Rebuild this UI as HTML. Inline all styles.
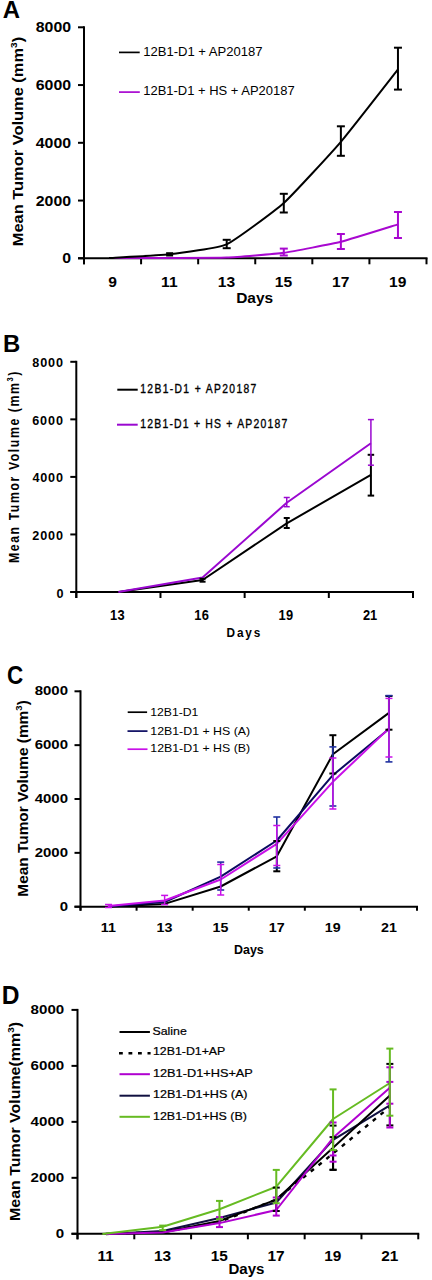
<!DOCTYPE html>
<html><head><meta charset="utf-8"><style>
html,body{margin:0;padding:0;background:#fff;width:432px;height:1280px;overflow:hidden;position:relative}
svg text{font-family:"Liberation Sans", sans-serif}
</style></head><body>
<svg width="432" height="1280" viewBox="0 0 432 1280" style="position:absolute;left:0;top:0">
<g font-family='"Liberation Sans", sans-serif'>
<text x="2.75" y="18.00" font-size="24.14" font-weight="bold" textLength="17.30" lengthAdjust="spacingAndGlyphs" fill="#000" >A</text>
<line x1="84" y1="26.3" x2="84" y2="264.3" stroke="#000" stroke-width="2" />
<line x1="78" y1="27.3" x2="84" y2="27.3" stroke="#000" stroke-width="2" />
<line x1="78" y1="85.05" x2="84" y2="85.05" stroke="#000" stroke-width="2" />
<line x1="78" y1="142.8" x2="84" y2="142.8" stroke="#000" stroke-width="2" />
<line x1="78" y1="200.55" x2="84" y2="200.55" stroke="#000" stroke-width="2" />
<line x1="78" y1="258.3" x2="84" y2="258.3" stroke="#000" stroke-width="2" />
<line x1="78" y1="258.3" x2="427.5" y2="258.3" stroke="#000" stroke-width="2" />
<line x1="84.0" y1="258.3" x2="84.0" y2="264.3" stroke="#000" stroke-width="2" />
<line x1="141.08333333333334" y1="258.3" x2="141.08333333333334" y2="264.3" stroke="#000" stroke-width="2" />
<line x1="198.16666666666669" y1="258.3" x2="198.16666666666669" y2="264.3" stroke="#000" stroke-width="2" />
<line x1="255.25" y1="258.3" x2="255.25" y2="264.3" stroke="#000" stroke-width="2" />
<line x1="312.33333333333337" y1="258.3" x2="312.33333333333337" y2="264.3" stroke="#000" stroke-width="2" />
<line x1="369.4166666666667" y1="258.3" x2="369.4166666666667" y2="264.3" stroke="#000" stroke-width="2" />
<line x1="426.5" y1="258.3" x2="426.5" y2="264.3" stroke="#000" stroke-width="2" />
<text x="35.76" y="32.30" font-size="14.30" font-weight="bold" textLength="35.31" lengthAdjust="spacingAndGlyphs" fill="#000" >8000</text>
<text x="35.76" y="90.05" font-size="14.30" font-weight="bold" textLength="35.31" lengthAdjust="spacingAndGlyphs" fill="#000" >6000</text>
<text x="35.76" y="147.80" font-size="14.30" font-weight="bold" textLength="35.31" lengthAdjust="spacingAndGlyphs" fill="#000" >4000</text>
<text x="35.76" y="205.55" font-size="14.30" font-weight="bold" textLength="35.31" lengthAdjust="spacingAndGlyphs" fill="#000" >2000</text>
<text x="62.23" y="263.30" font-size="14.30" font-weight="bold" textLength="8.83" lengthAdjust="spacingAndGlyphs" fill="#000" >0</text>
<text x="108.22" y="286.70" font-size="14.30" font-weight="bold" textLength="8.67" lengthAdjust="spacingAndGlyphs" fill="#000" >9</text>
<text x="161.13" y="286.70" font-size="14.30" font-weight="bold" textLength="16.48" lengthAdjust="spacingAndGlyphs" fill="#000" >11</text>
<text x="217.84" y="286.70" font-size="14.30" font-weight="bold" textLength="17.34" lengthAdjust="spacingAndGlyphs" fill="#000" >13</text>
<text x="274.87" y="286.70" font-size="14.30" font-weight="bold" textLength="17.34" lengthAdjust="spacingAndGlyphs" fill="#000" >15</text>
<text x="332.07" y="286.70" font-size="14.30" font-weight="bold" textLength="17.34" lengthAdjust="spacingAndGlyphs" fill="#000" >17</text>
<text x="389.09" y="286.70" font-size="14.30" font-weight="bold" textLength="17.34" lengthAdjust="spacingAndGlyphs" fill="#000" >19</text>
<text x="236.16" y="303.10" font-size="13.71" font-weight="bold" textLength="36.97" lengthAdjust="spacingAndGlyphs" fill="#000" >Days</text>
<text transform="translate(23.3,246.3) rotate(-90)" font-size="14.8" font-weight="bold" textLength="209.5" lengthAdjust="spacingAndGlyphs">Mean Tumor Volume (mm<tspan font-size="9.18" dy="-6.22">3</tspan><tspan dy="6.22">)</tspan></text>
<line x1="119" y1="52.4" x2="139.7" y2="52.4" stroke="#000" stroke-width="1.7" />
<text x="143.22" y="55.60" font-size="12.00" font-weight="normal" textLength="119.35" lengthAdjust="spacingAndGlyphs" fill="#000" >12B1-D1 + AP20187</text>
<line x1="119" y1="92.1" x2="139.8" y2="92.1" stroke="#a808d0" stroke-width="1.7" />
<text x="143.23" y="95.00" font-size="12.14" font-weight="normal" textLength="151.42" lengthAdjust="spacingAndGlyphs" fill="#000" >12B1-D1 + HS + AP20187</text>
<path d="M109.04,258.00 C113.37,258.00 161.22,258.03 169.62,258.00 C178.03,257.97 218.55,257.97 226.71,257.60 C234.86,257.23 275.64,253.93 283.79,252.80 C291.95,251.67 332.72,243.83 340.88,241.80 C349.03,239.77 393.88,225.64 397.96,224.40" fill="none" stroke="#a808d0" stroke-width="2" stroke-linejoin="round" />
<path d="M109.04,258.00 C113.37,257.74 161.22,255.28 169.62,254.30 C178.03,253.32 218.55,247.96 226.71,244.30 C234.86,240.64 275.64,210.32 283.79,203.00 C291.95,195.68 332.72,151.34 340.88,141.80 C349.03,132.26 393.88,74.57 397.96,69.40" fill="none" stroke="#000" stroke-width="2" stroke-linejoin="round" />
<line x1="169.625" y1="253.2" x2="169.625" y2="255.5" stroke="#000" stroke-width="2" />
<line x1="166.125" y1="253.2" x2="173.125" y2="253.2" stroke="#000" stroke-width="2" />
<line x1="166.125" y1="255.5" x2="173.125" y2="255.5" stroke="#000" stroke-width="2" />
<line x1="226.70833333333334" y1="239.8" x2="226.70833333333334" y2="248.2" stroke="#000" stroke-width="2" />
<line x1="222.70833333333334" y1="239.8" x2="230.70833333333334" y2="239.8" stroke="#000" stroke-width="2" />
<line x1="222.70833333333334" y1="248.2" x2="230.70833333333334" y2="248.2" stroke="#000" stroke-width="2" />
<line x1="283.7916666666667" y1="193.8" x2="283.7916666666667" y2="212.5" stroke="#000" stroke-width="2" />
<line x1="279.7916666666667" y1="193.8" x2="287.7916666666667" y2="193.8" stroke="#000" stroke-width="2" />
<line x1="279.7916666666667" y1="212.5" x2="287.7916666666667" y2="212.5" stroke="#000" stroke-width="2" />
<line x1="340.875" y1="126.3" x2="340.875" y2="155.8" stroke="#000" stroke-width="2" />
<line x1="336.875" y1="126.3" x2="344.875" y2="126.3" stroke="#000" stroke-width="2" />
<line x1="336.875" y1="155.8" x2="344.875" y2="155.8" stroke="#000" stroke-width="2" />
<line x1="397.95833333333337" y1="47.7" x2="397.95833333333337" y2="89.6" stroke="#000" stroke-width="2" />
<line x1="393.95833333333337" y1="47.7" x2="401.95833333333337" y2="47.7" stroke="#000" stroke-width="2" />
<line x1="393.95833333333337" y1="89.6" x2="401.95833333333337" y2="89.6" stroke="#000" stroke-width="2" />
<line x1="283.7916666666667" y1="248.6" x2="283.7916666666667" y2="255.5" stroke="#a808d0" stroke-width="2" />
<line x1="279.7916666666667" y1="248.6" x2="287.7916666666667" y2="248.6" stroke="#a808d0" stroke-width="2" />
<line x1="279.7916666666667" y1="255.5" x2="287.7916666666667" y2="255.5" stroke="#a808d0" stroke-width="2" />
<line x1="340.875" y1="234" x2="340.875" y2="249" stroke="#a808d0" stroke-width="2" />
<line x1="336.875" y1="234" x2="344.875" y2="234" stroke="#a808d0" stroke-width="2" />
<line x1="336.875" y1="249" x2="344.875" y2="249" stroke="#a808d0" stroke-width="2" />
<line x1="397.95833333333337" y1="212" x2="397.95833333333337" y2="238" stroke="#a808d0" stroke-width="2" />
<line x1="393.95833333333337" y1="212" x2="401.95833333333337" y2="212" stroke="#a808d0" stroke-width="2" />
<line x1="393.95833333333337" y1="238" x2="401.95833333333337" y2="238" stroke="#a808d0" stroke-width="2" />
<text x="2.88" y="352.30" font-size="24.57" font-weight="bold" textLength="17.29" lengthAdjust="spacingAndGlyphs" fill="#000" >B</text>
<line x1="76.3" y1="360.8" x2="76.3" y2="598.0" stroke="#000" stroke-width="2" />
<line x1="70.3" y1="361.8" x2="76.3" y2="361.8" stroke="#000" stroke-width="2" />
<line x1="70.3" y1="419.35" x2="76.3" y2="419.35" stroke="#000" stroke-width="2" />
<line x1="70.3" y1="476.9" x2="76.3" y2="476.9" stroke="#000" stroke-width="2" />
<line x1="70.3" y1="534.45" x2="76.3" y2="534.45" stroke="#000" stroke-width="2" />
<line x1="70.3" y1="592.0" x2="76.3" y2="592.0" stroke="#000" stroke-width="2" />
<line x1="70.3" y1="592.0" x2="414" y2="592.0" stroke="#000" stroke-width="2" />
<line x1="76.3" y1="592.0" x2="76.3" y2="598.0" stroke="#000" stroke-width="2" />
<line x1="160.475" y1="592.0" x2="160.475" y2="598.0" stroke="#000" stroke-width="2" />
<line x1="244.64999999999998" y1="592.0" x2="244.64999999999998" y2="598.0" stroke="#000" stroke-width="2" />
<line x1="328.825" y1="592.0" x2="328.825" y2="598.0" stroke="#000" stroke-width="2" />
<line x1="413.0" y1="592.0" x2="413.0" y2="598.0" stroke="#000" stroke-width="2" />
<text transform="translate(32.29,367.30) scale(0.95,1)" font-size="13.29" font-weight="bold" letter-spacing="0.90" fill="#000" >8000</text>
<text transform="translate(32.23,424.85) scale(0.95,1)" font-size="13.29" font-weight="bold" letter-spacing="0.92" fill="#000" >6000</text>
<text transform="translate(32.51,482.40) scale(0.95,1)" font-size="13.29" font-weight="bold" letter-spacing="0.82" fill="#000" >4000</text>
<text transform="translate(32.26,539.95) scale(0.95,1)" font-size="13.29" font-weight="bold" letter-spacing="0.91" fill="#000" >2000</text>
<text transform="translate(56.60,597.50) scale(0.95,1)" font-size="13.29" font-weight="bold" letter-spacing="0.00" fill="#000" >0</text>
<text transform="translate(110.08,620.40) scale(0.92,1)" font-size="14.00" font-weight="bold" letter-spacing="0.39" fill="#000" >13</text>
<text transform="translate(194.26,620.40) scale(0.92,1)" font-size="14.00" font-weight="bold" letter-spacing="0.39" fill="#000" >16</text>
<text transform="translate(278.43,620.40) scale(0.92,1)" font-size="14.00" font-weight="bold" letter-spacing="0.39" fill="#000" >19</text>
<text transform="translate(362.96,620.40) scale(0.92,1)" font-size="14.00" font-weight="bold" letter-spacing="-0.10" fill="#000" >21</text>
<text transform="translate(226.60,636.80) scale(0.88,1)" font-size="13.43" font-weight="bold" letter-spacing="2.09" fill="#000" >Days</text>
<text transform="translate(19.1,563.0) rotate(-90) scale(0.84,1)" font-size="14.6" font-weight="bold" letter-spacing="1.9">Mean Tumor Volume (mm<tspan font-size="9" dy="-6">3</tspan><tspan dy="6">)</tspan></text>
<line x1="117.3" y1="389.7" x2="137.7" y2="389.7" stroke="#000" stroke-width="2" />
<text transform="translate(140.23,393.40) scale(0.86,1)" font-size="12.00" font-weight="normal" letter-spacing="1.58" fill="#000" stroke="#000" stroke-width="0.35">12B1-D1 + AP20187</text>
<line x1="117" y1="424.7" x2="137.7" y2="424.7" stroke="#9a08d0" stroke-width="2" />
<text transform="translate(140.22,428.20) scale(0.86,1)" font-size="12.14" font-weight="normal" letter-spacing="1.40" fill="#000" stroke="#000" stroke-width="0.35">12B1-D1 + HS + AP20187</text>
<path d="M118.39,592.00 L202.56,580.00 L286.74,523.40 L370.91,474.80" fill="none" stroke="#000" stroke-width="2" stroke-linejoin="round" />
<path d="M118.39,592.00 L202.56,577.50 L286.74,502.70 L370.91,443.30" fill="none" stroke="#9a08d0" stroke-width="2" stroke-linejoin="round" />
<line x1="202.5625" y1="578.8" x2="202.5625" y2="581.7" stroke="#000" stroke-width="2" />
<line x1="199.5625" y1="578.8" x2="205.5625" y2="578.8" stroke="#000" stroke-width="2" />
<line x1="199.5625" y1="581.7" x2="205.5625" y2="581.7" stroke="#000" stroke-width="2" />
<line x1="286.7375" y1="518" x2="286.7375" y2="528" stroke="#000" stroke-width="2" />
<line x1="283.7375" y1="518" x2="289.7375" y2="518" stroke="#000" stroke-width="2" />
<line x1="283.7375" y1="528" x2="289.7375" y2="528" stroke="#000" stroke-width="2" />
<line x1="370.9125" y1="454.8" x2="370.9125" y2="495.6" stroke="#000" stroke-width="2" />
<line x1="367.6625" y1="454.8" x2="374.1625" y2="454.8" stroke="#000" stroke-width="2" />
<line x1="367.6625" y1="495.6" x2="374.1625" y2="495.6" stroke="#000" stroke-width="2" />
<line x1="286.7375" y1="497.5" x2="286.7375" y2="506.7" stroke="#9a08d0" stroke-width="1.5" />
<line x1="283.7375" y1="497.5" x2="289.7375" y2="497.5" stroke="#9a08d0" stroke-width="1.5" />
<line x1="283.7375" y1="506.7" x2="289.7375" y2="506.7" stroke="#9a08d0" stroke-width="1.5" />
<line x1="370.9125" y1="419.6" x2="370.9125" y2="465.2" stroke="#9a08d0" stroke-width="1.5" />
<line x1="367.9125" y1="419.6" x2="373.9125" y2="419.6" stroke="#9a08d0" stroke-width="1.5" />
<line x1="367.9125" y1="465.2" x2="373.9125" y2="465.2" stroke="#9a08d0" stroke-width="1.5" />
<text x="7.00" y="683.70" font-size="25.43" font-weight="bold" textLength="16.21" lengthAdjust="spacingAndGlyphs" fill="#000" >C</text>
<line x1="80.5" y1="690.3" x2="80.5" y2="910.7" stroke="#000" stroke-width="2" />
<line x1="74.5" y1="691.3" x2="80.5" y2="691.3" stroke="#000" stroke-width="2" />
<line x1="74.5" y1="745.15" x2="80.5" y2="745.15" stroke="#000" stroke-width="2" />
<line x1="74.5" y1="799.0" x2="80.5" y2="799.0" stroke="#000" stroke-width="2" />
<line x1="74.5" y1="852.85" x2="80.5" y2="852.85" stroke="#000" stroke-width="2" />
<line x1="74.5" y1="906.7" x2="80.5" y2="906.7" stroke="#000" stroke-width="2" />
<line x1="74.5" y1="906.7" x2="418" y2="906.7" stroke="#000" stroke-width="2" />
<line x1="80.5" y1="906.7" x2="80.5" y2="910.7" stroke="#000" stroke-width="2" />
<line x1="136.58333333333334" y1="906.7" x2="136.58333333333334" y2="910.7" stroke="#000" stroke-width="2" />
<line x1="192.66666666666669" y1="906.7" x2="192.66666666666669" y2="910.7" stroke="#000" stroke-width="2" />
<line x1="248.75" y1="906.7" x2="248.75" y2="910.7" stroke="#000" stroke-width="2" />
<line x1="304.83333333333337" y1="906.7" x2="304.83333333333337" y2="910.7" stroke="#000" stroke-width="2" />
<line x1="360.9166666666667" y1="906.7" x2="360.9166666666667" y2="910.7" stroke="#000" stroke-width="2" />
<line x1="417.0" y1="906.7" x2="417.0" y2="910.7" stroke="#000" stroke-width="2" />
<text x="34.70" y="695.30" font-size="13.50" font-weight="bold" textLength="33.34" lengthAdjust="spacingAndGlyphs" fill="#000" >8000</text>
<text x="34.70" y="749.15" font-size="13.50" font-weight="bold" textLength="33.34" lengthAdjust="spacingAndGlyphs" fill="#000" >6000</text>
<text x="34.70" y="803.00" font-size="13.50" font-weight="bold" textLength="33.34" lengthAdjust="spacingAndGlyphs" fill="#000" >4000</text>
<text x="34.70" y="856.85" font-size="13.50" font-weight="bold" textLength="33.34" lengthAdjust="spacingAndGlyphs" fill="#000" >2000</text>
<text x="59.68" y="910.70" font-size="13.50" font-weight="bold" textLength="8.33" lengthAdjust="spacingAndGlyphs" fill="#000" >0</text>
<text x="100.77" y="931.60" font-size="13.20" font-weight="bold" textLength="15.07" lengthAdjust="spacingAndGlyphs" fill="#000" >11</text>
<text x="156.52" y="931.60" font-size="13.20" font-weight="bold" textLength="15.86" lengthAdjust="spacingAndGlyphs" fill="#000" >13</text>
<text x="212.55" y="931.60" font-size="13.20" font-weight="bold" textLength="15.86" lengthAdjust="spacingAndGlyphs" fill="#000" >15</text>
<text x="268.74" y="931.60" font-size="13.20" font-weight="bold" textLength="15.86" lengthAdjust="spacingAndGlyphs" fill="#000" >17</text>
<text x="324.77" y="931.60" font-size="13.20" font-weight="bold" textLength="15.86" lengthAdjust="spacingAndGlyphs" fill="#000" >19</text>
<text x="380.99" y="931.60" font-size="13.20" font-weight="bold" textLength="15.86" lengthAdjust="spacingAndGlyphs" fill="#000" >21</text>
<text x="234.06" y="954.20" font-size="11.86" font-weight="bold" textLength="29.75" lengthAdjust="spacingAndGlyphs" fill="#000" >Days</text>
<text transform="translate(28.0,896.7) rotate(-90)" font-size="14.6" font-weight="bold" textLength="196.5" lengthAdjust="spacingAndGlyphs">Mean Tumor Volume (mm<tspan font-size="9.05" dy="-6.13">3</tspan><tspan dy="6.13">)</tspan></text>
<line x1="127.7" y1="712.2" x2="147.1" y2="712.2" stroke="#000" stroke-width="1.7" />
<text x="150.29" y="715.60" font-size="11.00" font-weight="normal" textLength="48.12" lengthAdjust="spacingAndGlyphs" fill="#000" >12B1-D1</text>
<line x1="127.5" y1="731.1" x2="147.5" y2="731.1" stroke="#0a0a60" stroke-width="1.7" />
<text x="150.27" y="734.70" font-size="11.14" font-weight="normal" textLength="99.92" lengthAdjust="spacingAndGlyphs" fill="#000" >12B1-D1 + HS (A)</text>
<line x1="127.5" y1="749.2" x2="147.5" y2="749.2" stroke="#c810e8" stroke-width="1.7" />
<text x="150.27" y="752.30" font-size="11.14" font-weight="normal" textLength="99.92" lengthAdjust="spacingAndGlyphs" fill="#000" >12B1-D1 + HS (B)</text>
<path d="M108.54,906.50 L164.62,903.90 L220.71,886.50 L276.79,856.30 L332.88,754.30 L388.96,712.90" fill="none" stroke="#000" stroke-width="2" stroke-linejoin="round" />
<path d="M108.54,906.50 L164.62,902.00 L220.71,876.70 L276.79,840.50 L332.88,775.20 L388.96,729.00" fill="none" stroke="#0a0a60" stroke-width="2" stroke-linejoin="round" />
<path d="M108.54,906.00 L164.62,900.50 L220.71,879.50 L276.79,843.80 L332.88,781.80 L388.96,728.40" fill="none" stroke="#c810e8" stroke-width="2" stroke-linejoin="round" />
<line x1="276.7916666666667" y1="841" x2="276.7916666666667" y2="871.3" stroke="#000" stroke-width="2" />
<line x1="273.2916666666667" y1="841" x2="280.2916666666667" y2="841" stroke="#000" stroke-width="2" />
<line x1="273.2916666666667" y1="871.3" x2="280.2916666666667" y2="871.3" stroke="#000" stroke-width="2" />
<line x1="332.875" y1="735.2" x2="332.875" y2="773.5" stroke="#000" stroke-width="2" />
<line x1="329.375" y1="735.2" x2="336.375" y2="735.2" stroke="#000" stroke-width="2" />
<line x1="329.375" y1="773.5" x2="336.375" y2="773.5" stroke="#000" stroke-width="2" />
<line x1="388.95833333333337" y1="696" x2="388.95833333333337" y2="729.7" stroke="#000" stroke-width="2" />
<line x1="385.45833333333337" y1="696" x2="392.45833333333337" y2="696" stroke="#000" stroke-width="2" />
<line x1="385.45833333333337" y1="729.7" x2="392.45833333333337" y2="729.7" stroke="#000" stroke-width="2" />
<line x1="220.70833333333334" y1="862.1" x2="220.70833333333334" y2="890" stroke="#2030a0" stroke-width="1.6" />
<line x1="217.20833333333334" y1="862.1" x2="224.20833333333334" y2="862.1" stroke="#2030a0" stroke-width="1.6" />
<line x1="217.20833333333334" y1="890" x2="224.20833333333334" y2="890" stroke="#2030a0" stroke-width="1.6" />
<line x1="276.7916666666667" y1="817" x2="276.7916666666667" y2="868" stroke="#2030a0" stroke-width="1.6" />
<line x1="273.2916666666667" y1="817" x2="280.2916666666667" y2="817" stroke="#2030a0" stroke-width="1.6" />
<line x1="273.2916666666667" y1="868" x2="280.2916666666667" y2="868" stroke="#2030a0" stroke-width="1.6" />
<line x1="332.875" y1="746.9" x2="332.875" y2="806" stroke="#2030a0" stroke-width="1.6" />
<line x1="329.375" y1="746.9" x2="336.375" y2="746.9" stroke="#2030a0" stroke-width="1.6" />
<line x1="329.375" y1="806" x2="336.375" y2="806" stroke="#2030a0" stroke-width="1.6" />
<line x1="388.95833333333337" y1="695.6" x2="388.95833333333337" y2="761.9" stroke="#2030a0" stroke-width="1.6" />
<line x1="385.45833333333337" y1="695.6" x2="392.45833333333337" y2="695.6" stroke="#2030a0" stroke-width="1.6" />
<line x1="385.45833333333337" y1="761.9" x2="392.45833333333337" y2="761.9" stroke="#2030a0" stroke-width="1.6" />
<line x1="108.54166666666667" y1="904.5" x2="108.54166666666667" y2="907.5" stroke="#c810e8" stroke-width="1.5" />
<line x1="105.04166666666667" y1="904.5" x2="112.04166666666667" y2="904.5" stroke="#c810e8" stroke-width="1.5" />
<line x1="105.04166666666667" y1="907.5" x2="112.04166666666667" y2="907.5" stroke="#c810e8" stroke-width="1.5" />
<line x1="164.625" y1="895.4" x2="164.625" y2="904.6" stroke="#c810e8" stroke-width="1.5" />
<line x1="161.125" y1="895.4" x2="168.125" y2="895.4" stroke="#c810e8" stroke-width="1.5" />
<line x1="161.125" y1="904.6" x2="168.125" y2="904.6" stroke="#c810e8" stroke-width="1.5" />
<line x1="220.70833333333334" y1="864.5" x2="220.70833333333334" y2="895" stroke="#c810e8" stroke-width="1.5" />
<line x1="217.20833333333334" y1="864.5" x2="224.20833333333334" y2="864.5" stroke="#c810e8" stroke-width="1.5" />
<line x1="217.20833333333334" y1="895" x2="224.20833333333334" y2="895" stroke="#c810e8" stroke-width="1.5" />
<line x1="276.7916666666667" y1="825.5" x2="276.7916666666667" y2="865.5" stroke="#c810e8" stroke-width="1.5" />
<line x1="273.2916666666667" y1="825.5" x2="280.2916666666667" y2="825.5" stroke="#c810e8" stroke-width="1.5" />
<line x1="273.2916666666667" y1="865.5" x2="280.2916666666667" y2="865.5" stroke="#c810e8" stroke-width="1.5" />
<line x1="332.875" y1="758" x2="332.875" y2="809" stroke="#c810e8" stroke-width="1.5" />
<line x1="329.375" y1="758" x2="336.375" y2="758" stroke="#c810e8" stroke-width="1.5" />
<line x1="329.375" y1="809" x2="336.375" y2="809" stroke="#c810e8" stroke-width="1.5" />
<line x1="388.95833333333337" y1="698.4" x2="388.95833333333337" y2="757" stroke="#c810e8" stroke-width="1.5" />
<line x1="385.45833333333337" y1="698.4" x2="392.45833333333337" y2="698.4" stroke="#c810e8" stroke-width="1.5" />
<line x1="385.45833333333337" y1="757" x2="392.45833333333337" y2="757" stroke="#c810e8" stroke-width="1.5" />
<text x="1.74" y="1004.10" font-size="25.07" font-weight="bold" textLength="17.75" lengthAdjust="spacingAndGlyphs" fill="#000" >D</text>
<line x1="77.5" y1="1008.9" x2="77.5" y2="1239.3" stroke="#000" stroke-width="2" />
<line x1="71.5" y1="1009.9" x2="77.5" y2="1009.9" stroke="#000" stroke-width="2" />
<line x1="71.5" y1="1065.875" x2="77.5" y2="1065.875" stroke="#000" stroke-width="2" />
<line x1="71.5" y1="1121.85" x2="77.5" y2="1121.85" stroke="#000" stroke-width="2" />
<line x1="71.5" y1="1177.825" x2="77.5" y2="1177.825" stroke="#000" stroke-width="2" />
<line x1="71.5" y1="1233.8" x2="77.5" y2="1233.8" stroke="#000" stroke-width="2" />
<line x1="71.5" y1="1233.8" x2="419.25" y2="1233.8" stroke="#000" stroke-width="2" />
<line x1="77.5" y1="1233.8" x2="77.5" y2="1239.3" stroke="#000" stroke-width="2" />
<line x1="134.29166666666666" y1="1233.8" x2="134.29166666666666" y2="1239.3" stroke="#000" stroke-width="2" />
<line x1="191.08333333333331" y1="1233.8" x2="191.08333333333331" y2="1239.3" stroke="#000" stroke-width="2" />
<line x1="247.875" y1="1233.8" x2="247.875" y2="1239.3" stroke="#000" stroke-width="2" />
<line x1="304.66666666666663" y1="1233.8" x2="304.66666666666663" y2="1239.3" stroke="#000" stroke-width="2" />
<line x1="361.4583333333333" y1="1233.8" x2="361.4583333333333" y2="1239.3" stroke="#000" stroke-width="2" />
<line x1="418.25" y1="1233.8" x2="418.25" y2="1239.3" stroke="#000" stroke-width="2" />
<text x="30.60" y="1014.10" font-size="13.50" font-weight="bold" textLength="33.64" lengthAdjust="spacingAndGlyphs" fill="#000" >8000</text>
<text x="30.60" y="1070.08" font-size="13.50" font-weight="bold" textLength="33.64" lengthAdjust="spacingAndGlyphs" fill="#000" >6000</text>
<text x="30.60" y="1126.05" font-size="13.50" font-weight="bold" textLength="33.64" lengthAdjust="spacingAndGlyphs" fill="#000" >4000</text>
<text x="30.60" y="1182.03" font-size="13.50" font-weight="bold" textLength="33.64" lengthAdjust="spacingAndGlyphs" fill="#000" >2000</text>
<text x="55.81" y="1238.00" font-size="13.50" font-weight="bold" textLength="8.41" lengthAdjust="spacingAndGlyphs" fill="#000" >0</text>
<text x="97.50" y="1261.00" font-size="14.00" font-weight="bold" textLength="16.28" lengthAdjust="spacingAndGlyphs" fill="#000" >11</text>
<text x="153.93" y="1261.00" font-size="14.00" font-weight="bold" textLength="17.13" lengthAdjust="spacingAndGlyphs" fill="#000" >13</text>
<text x="210.66" y="1261.00" font-size="14.00" font-weight="bold" textLength="17.13" lengthAdjust="spacingAndGlyphs" fill="#000" >15</text>
<text x="267.57" y="1261.00" font-size="14.00" font-weight="bold" textLength="17.13" lengthAdjust="spacingAndGlyphs" fill="#000" >17</text>
<text x="324.30" y="1261.00" font-size="14.00" font-weight="bold" textLength="17.13" lengthAdjust="spacingAndGlyphs" fill="#000" >19</text>
<text x="381.25" y="1261.00" font-size="14.00" font-weight="bold" textLength="17.13" lengthAdjust="spacingAndGlyphs" fill="#000" >21</text>
<text x="228.48" y="1273.70" font-size="13.86" font-weight="bold" textLength="36.03" lengthAdjust="spacingAndGlyphs" fill="#000" >Days</text>
<text transform="translate(20.0,1221.0) rotate(-90)" font-size="14.8" font-weight="bold" textLength="199" lengthAdjust="spacingAndGlyphs">Mean Tumor Volume(mm<tspan font-size="9.18" dy="-6.22">3</tspan><tspan dy="6.22">)</tspan></text>
<line x1="119.5" y1="1032.0" x2="149.9" y2="1032.0" stroke="#000" stroke-width="2" />
<line x1="119.0" y1="1053.2" x2="150.6" y2="1053.2" stroke="#000" stroke-width="2.4" stroke-dasharray="3.8 5.7"/>
<line x1="119.5" y1="1074.2" x2="149.9" y2="1074.2" stroke="#b000d0" stroke-width="2" />
<line x1="119.5" y1="1095.7" x2="149.9" y2="1095.7" stroke="#101040" stroke-width="2" />
<line x1="119.5" y1="1116.8" x2="149.9" y2="1116.8" stroke="#66bb22" stroke-width="2" />
<text x="152.44" y="1034.50" font-size="11.31" font-weight="normal" textLength="34.31" lengthAdjust="spacingAndGlyphs" fill="#000" stroke="#000" stroke-width="0.2">Saline</text>
<text x="152.97" y="1055.30" font-size="11.00" font-weight="normal" textLength="72.37" lengthAdjust="spacingAndGlyphs" fill="#000" stroke="#000" stroke-width="0.2">12B1-D1+AP</text>
<text x="152.94" y="1076.60" font-size="11.00" font-weight="normal" textLength="99.93" lengthAdjust="spacingAndGlyphs" fill="#000" stroke="#000" stroke-width="0.2">12B1-D1+HS+AP</text>
<text x="152.96" y="1098.40" font-size="11.00" font-weight="normal" textLength="94.54" lengthAdjust="spacingAndGlyphs" fill="#000" stroke="#000" stroke-width="0.2">12B1-D1+HS (A)</text>
<text x="152.96" y="1119.70" font-size="11.00" font-weight="normal" textLength="94.03" lengthAdjust="spacingAndGlyphs" fill="#000" stroke="#000" stroke-width="0.2">12B1-D1+HS (B)</text>
<path d="M105.90,1234.00 L162.69,1232.00 L219.48,1222.00 L276.27,1199.50 L333.06,1153.50 L389.85,1107.00" fill="none" stroke="#000" stroke-width="2.4" stroke-linejoin="round" stroke-dasharray="4 6"/>
<path d="M105.90,1234.00 L162.69,1231.00 L219.48,1218.00 L276.27,1202.50 L333.06,1139.90 L389.85,1105.30" fill="none" stroke="#101040" stroke-width="2" stroke-linejoin="round" />
<path d="M105.90,1234.00 L162.69,1232.50 L219.48,1221.00 L276.27,1199.60 L333.06,1147.80 L389.85,1095.60" fill="none" stroke="#000" stroke-width="2" stroke-linejoin="round" />
<path d="M105.90,1234.00 L162.69,1232.50 L219.48,1223.10 L276.27,1210.00 L333.06,1137.80 L389.85,1087.70" fill="none" stroke="#b000d0" stroke-width="2" stroke-linejoin="round" />
<path d="M102.40,1234.00 L162.69,1226.70 L219.48,1209.20 L276.27,1186.70 L333.06,1119.00 L389.85,1083.00" fill="none" stroke="#66bb22" stroke-width="2" stroke-linejoin="round" />
<line x1="276.2708333333333" y1="1187.6" x2="276.2708333333333" y2="1211" stroke="#000" stroke-width="2" />
<line x1="272.7708333333333" y1="1187.6" x2="279.7708333333333" y2="1187.6" stroke="#000" stroke-width="2" />
<line x1="272.7708333333333" y1="1211" x2="279.7708333333333" y2="1211" stroke="#000" stroke-width="2" />
<line x1="333.0625" y1="1125.6" x2="333.0625" y2="1169.7" stroke="#000" stroke-width="2" />
<line x1="329.5625" y1="1125.6" x2="336.5625" y2="1125.6" stroke="#000" stroke-width="2" />
<line x1="329.5625" y1="1169.7" x2="336.5625" y2="1169.7" stroke="#000" stroke-width="2" />
<line x1="333.0625" y1="1137.1" x2="333.0625" y2="1169.9" stroke="#000" stroke-width="2" />
<line x1="329.5625" y1="1137.1" x2="336.5625" y2="1137.1" stroke="#000" stroke-width="2" />
<line x1="329.5625" y1="1169.9" x2="336.5625" y2="1169.9" stroke="#000" stroke-width="2" />
<line x1="389.85416666666663" y1="1063.9" x2="389.85416666666663" y2="1125.4" stroke="#000" stroke-width="2" />
<line x1="386.35416666666663" y1="1063.9" x2="393.35416666666663" y2="1063.9" stroke="#000" stroke-width="2" />
<line x1="386.35416666666663" y1="1125.4" x2="393.35416666666663" y2="1125.4" stroke="#000" stroke-width="2" />
<line x1="219.47916666666666" y1="1217.1" x2="219.47916666666666" y2="1227.1" stroke="#b000d0" stroke-width="2" />
<line x1="215.97916666666666" y1="1217.1" x2="222.97916666666666" y2="1217.1" stroke="#b000d0" stroke-width="2" />
<line x1="215.97916666666666" y1="1227.1" x2="222.97916666666666" y2="1227.1" stroke="#b000d0" stroke-width="2" />
<line x1="276.2708333333333" y1="1197.5" x2="276.2708333333333" y2="1215.6" stroke="#b000d0" stroke-width="2" />
<line x1="272.7708333333333" y1="1197.5" x2="279.7708333333333" y2="1197.5" stroke="#b000d0" stroke-width="2" />
<line x1="272.7708333333333" y1="1215.6" x2="279.7708333333333" y2="1215.6" stroke="#b000d0" stroke-width="2" />
<line x1="333.0625" y1="1122.5" x2="333.0625" y2="1155.5" stroke="#b000d0" stroke-width="2" />
<line x1="329.5625" y1="1122.5" x2="336.5625" y2="1122.5" stroke="#b000d0" stroke-width="2" />
<line x1="329.5625" y1="1155.5" x2="336.5625" y2="1155.5" stroke="#b000d0" stroke-width="2" />
<line x1="333.0625" y1="1139.9" x2="1161.7" y2="#b000d0" stroke="2" stroke-width="2" />
<line x1="329.5625" y1="1161.7" x2="336.5625" y2="1161.7" stroke="#b000d0" stroke-width="2" />
<line x1="389.85416666666663" y1="1067.3" x2="389.85416666666663" y2="1103.7" stroke="#b000d0" stroke-width="2" />
<line x1="386.35416666666663" y1="1067.3" x2="393.35416666666663" y2="1067.3" stroke="#b000d0" stroke-width="2" />
<line x1="386.35416666666663" y1="1103.7" x2="393.35416666666663" y2="1103.7" stroke="#b000d0" stroke-width="2" />
<line x1="389.85416666666663" y1="1081.9" x2="389.85416666666663" y2="1127.5" stroke="#b000d0" stroke-width="2" />
<line x1="386.35416666666663" y1="1081.9" x2="393.35416666666663" y2="1081.9" stroke="#b000d0" stroke-width="2" />
<line x1="386.35416666666663" y1="1127.5" x2="393.35416666666663" y2="1127.5" stroke="#b000d0" stroke-width="2" />
<line x1="162.6875" y1="1225.6" x2="162.6875" y2="1230.1" stroke="#66bb22" stroke-width="2" />
<line x1="159.1875" y1="1225.6" x2="166.1875" y2="1225.6" stroke="#66bb22" stroke-width="2" />
<line x1="159.1875" y1="1230.1" x2="166.1875" y2="1230.1" stroke="#66bb22" stroke-width="2" />
<line x1="219.47916666666666" y1="1200.9" x2="219.47916666666666" y2="1219.3" stroke="#66bb22" stroke-width="2" />
<line x1="215.97916666666666" y1="1200.9" x2="222.97916666666666" y2="1200.9" stroke="#66bb22" stroke-width="2" />
<line x1="215.97916666666666" y1="1219.3" x2="222.97916666666666" y2="1219.3" stroke="#66bb22" stroke-width="2" />
<line x1="276.2708333333333" y1="1169.9" x2="276.2708333333333" y2="1203.2" stroke="#66bb22" stroke-width="2" />
<line x1="272.7708333333333" y1="1169.9" x2="279.7708333333333" y2="1169.9" stroke="#66bb22" stroke-width="2" />
<line x1="272.7708333333333" y1="1203.2" x2="279.7708333333333" y2="1203.2" stroke="#66bb22" stroke-width="2" />
<line x1="333.0625" y1="1089.4" x2="333.0625" y2="1150.1" stroke="#66bb22" stroke-width="2" />
<line x1="329.5625" y1="1089.4" x2="336.5625" y2="1089.4" stroke="#66bb22" stroke-width="2" />
<line x1="329.5625" y1="1150.1" x2="336.5625" y2="1150.1" stroke="#66bb22" stroke-width="2" />
<line x1="389.85416666666663" y1="1048.6" x2="389.85416666666663" y2="1115.7" stroke="#66bb22" stroke-width="2" />
<line x1="386.35416666666663" y1="1048.6" x2="393.35416666666663" y2="1048.6" stroke="#66bb22" stroke-width="2" />
<line x1="386.35416666666663" y1="1115.7" x2="393.35416666666663" y2="1115.7" stroke="#66bb22" stroke-width="2" />
</g></svg>
</body></html>
